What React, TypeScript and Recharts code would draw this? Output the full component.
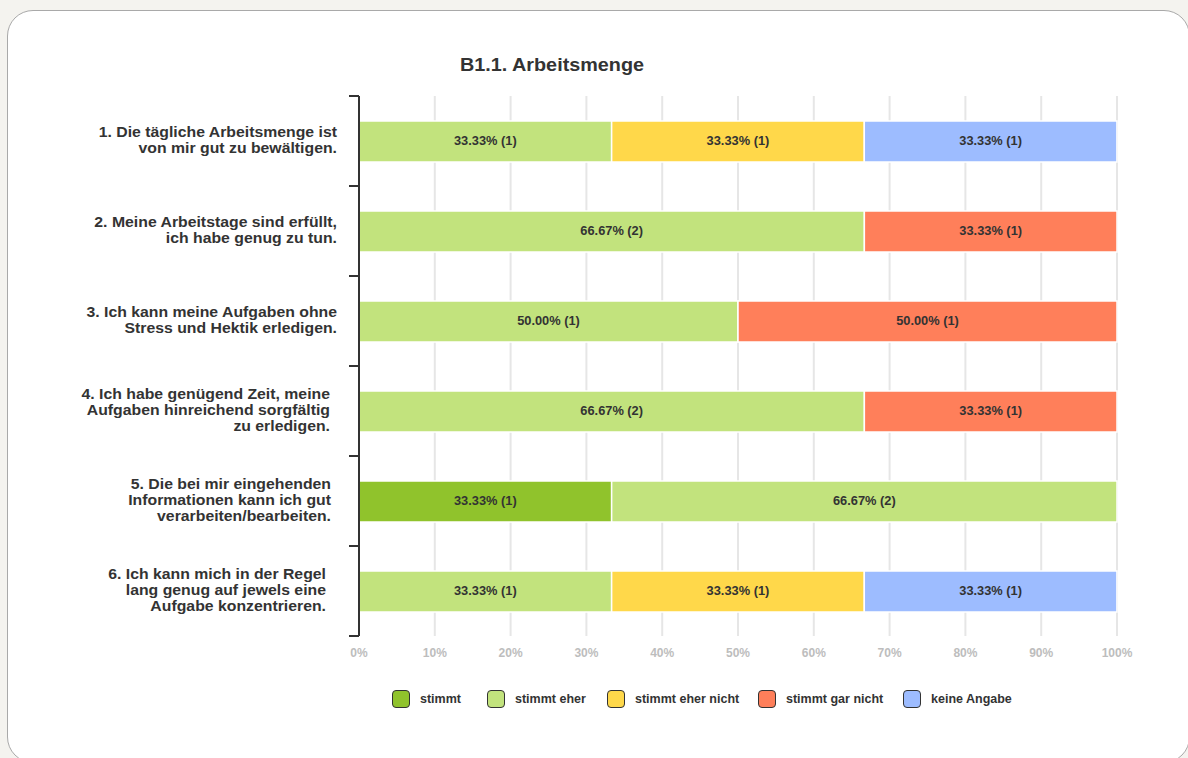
import React from "react";
import { BarChart, Bar, XAxis, YAxis, CartesianGrid, LabelList } from "recharts";

const categories = [
  "1. Die tägliche Arbeitsmenge ist\nvon mir gut zu bewältigen.",
  "2. Meine Arbeitstage sind erfüllt,\nich habe genug zu tun.",
  "3. Ich kann meine Aufgaben ohne\nStress und Hektik erledigen.",
  "4. Ich habe genügend Zeit, meine\nAufgaben hinreichend sorgfältig\nzu erledigen.",
  "5. Die bei mir eingehenden\nInformationen kann ich gut\nverarbeiten/bearbeiten.",
  "6. Ich kann mich in der Regel\nlang genug auf jewels eine\nAufgabe konzentrieren.",
];

const seriesNames = ["stimmt", "stimmt eher", "stimmt eher nicht", "stimmt gar nicht", "keine Angabe"];
const seriesColors = ["#90c32c", "#c2e37d", "#ffd84a", "#ff7f5a", "#9dbcff"];

const stimmtPct = [0, 0, 0, 0, 33.33, 0];
const stimmtEherPct = [33.33, 66.67, 50.0, 66.67, 66.67, 33.33];
const eherNichtPct = [33.33, 0, 0, 0, 0, 33.33];
const garNichtPct = [0, 33.33, 50.0, 33.33, 0, 0];
const keineAngabePct = [33.33, 0, 0, 0, 0, 33.33];

const stimmtN = [0, 0, 0, 0, 1, 0];
const stimmtEherN = [1, 2, 1, 2, 2, 1];
const eherNichtN = [1, 0, 0, 0, 0, 1];
const garNichtN = [0, 1, 1, 1, 0, 0];
const keineAngabeN = [1, 0, 0, 0, 0, 1];

const xTicks = [0, 10, 20, 30, 40, 50, 60, 70, 80, 90, 100];

const pctSeries = [stimmtPct, stimmtEherPct, eherNichtPct, garNichtPct, keineAngabePct];
const nSeries = [stimmtN, stimmtEherN, eherNichtN, garNichtN, keineAngabeN];

const data = categories.map((name, i) => {
  const row: any = { name };
  pctSeries.forEach((s, k) => {
    row["s" + k] = s[i];
    row["l" + k] = s[i] ? s[i].toFixed(2) + "% (" + nSeries[k][i] + ")" : "";
  });
  return row;
});

const FONT = "'Liberation Sans', Arial, Helvetica, sans-serif";
const labelShift = [0, 0, 0, 7, 6, 11];

const CategoryTick = (props: any) => {
  const { x, y, payload, index, visibleTicksCount, height } = props;
  const band = height / visibleTicksCount;
  const lines = String(payload.value).split("\n");
  const lh = 16;
  const startY = y - 2 - ((lines.length - 1) * lh) / 2;
  const ax = x - 22 - (labelShift[index] || 0);
  return (
    <g>
      <line x1={x - 10} x2={x} y1={y - band / 2} y2={y - band / 2} stroke="#333" strokeWidth={2} />
      {index === visibleTicksCount - 1 && (
        <line x1={x - 10} x2={x} y1={y + band / 2} y2={y + band / 2} stroke="#333" strokeWidth={2} />
      )}
      <g transform={`translate(${ax},0) scale(1.13,1) translate(${-ax},0)`}>
        <text
          x={ax}
          y={startY}
          textAnchor="end"
          dominantBaseline="central"
          fontFamily={FONT}
          fontWeight="bold"
          fontSize={14}
          fill="#333"
        >
          {lines.map((l, i) => (
            <tspan key={i} x={ax} y={startY + i * lh}>
              {l}
            </tspan>
          ))}
        </text>
      </g>
    </g>
  );
};

const BarLabel = (props: any) => {
  const { x, y, width, height, value } = props;
  if (!value) return null;
  const cx = x + width / 2;
  return (
    <g transform={`translate(${cx},0) scale(1.07,1) translate(${-cx},0)`}>
      <text
        x={cx}
        y={y + height / 2}
        textAnchor="middle"
        dominantBaseline="central"
        fontFamily={FONT}
        fontWeight="bold"
        fontSize={12}
        fill="#333"
      >
        {value}
      </text>
    </g>
  );
};

const legendX = [392, 487, 607, 758, 903];

export default function App() {
  return (
    <div
      style={{
        position: "absolute",
        left: 0,
        top: 0,
        width: 1188,
        height: 758,
        overflow: "hidden",
        background: "#f4f3ef",
        fontFamily: FONT,
      }}
    >
      <div
        style={{
          position: "absolute",
          left: 7,
          top: 10,
          width: 1183,
          height: 753,
          border: "1px solid #a9a9a9",
          borderRadius: 26,
          background: "#fff",
          boxSizing: "border-box",
        }}
      />
      <div
        style={{
          position: "absolute",
          left: 352,
          width: 400,
          top: 55,
          textAlign: "center",
          fontSize: 18,
          fontWeight: "bold",
          color: "#333",
          transform: "scaleX(1.1)",
        }}
      >
        B1.1. Arbeitsmenge
      </div>
      <div style={{ position: "absolute", left: 0, top: 0 }}>
        <BarChart
          width={1188}
          height={758}
          layout="vertical"
          data={data}
          margin={{ top: 96, right: 71, bottom: 92, left: 0 }}
        >
          <CartesianGrid vertical horizontal={false} stroke="#e6e6e6" strokeWidth={2} />
          <XAxis
            type="number"
            domain={[0, 100]}
            ticks={xTicks}
            tickFormatter={(v: number) => v + "%"}
            axisLine={false}
            tickLine={false}
            height={30}
            tickMargin={6}
            interval={0}
            tick={{ fill: "#bdbdbd", fontSize: 12, fontWeight: "bold", fontFamily: FONT }}
          />
          <YAxis
            type="category"
            dataKey="name"
            width={359}
            axisLine={{ stroke: "#333", strokeWidth: 2 }}
            tickLine={false}
            tickSize={0}
            tickMargin={0}
            interval={0}
            tick={<CategoryTick />}
          />
          {seriesNames.map((n, k) => (
            <Bar
              key={n}
              dataKey={"s" + k}
              name={n}
              stackId="a"
              fill={seriesColors[k]}
              stroke="#fff"
              strokeWidth={1.5}
              barSize={41}
              isAnimationActive={false}
            >
              <LabelList dataKey={"l" + k} content={<BarLabel />} />
            </Bar>
          ))}
        </BarChart>
      </div>
      {seriesNames.map((n, k) => (
        <div
          key={n}
          style={{
            position: "absolute",
            left: legendX[k],
            top: 690,
            display: "flex",
            alignItems: "center",
            fontSize: 12.5,
            fontWeight: "bold",
            color: "#333",
            whiteSpace: "nowrap",
          }}
        >
          <div
            style={{
              width: 18,
              height: 18,
              boxSizing: "border-box",
              border: "1.5px solid #333",
              borderRadius: 4,
              background: seriesColors[k],
              marginRight: 10,
            }}
          />
          <span>{n}</span>
        </div>
      ))}
    </div>
  );
}
